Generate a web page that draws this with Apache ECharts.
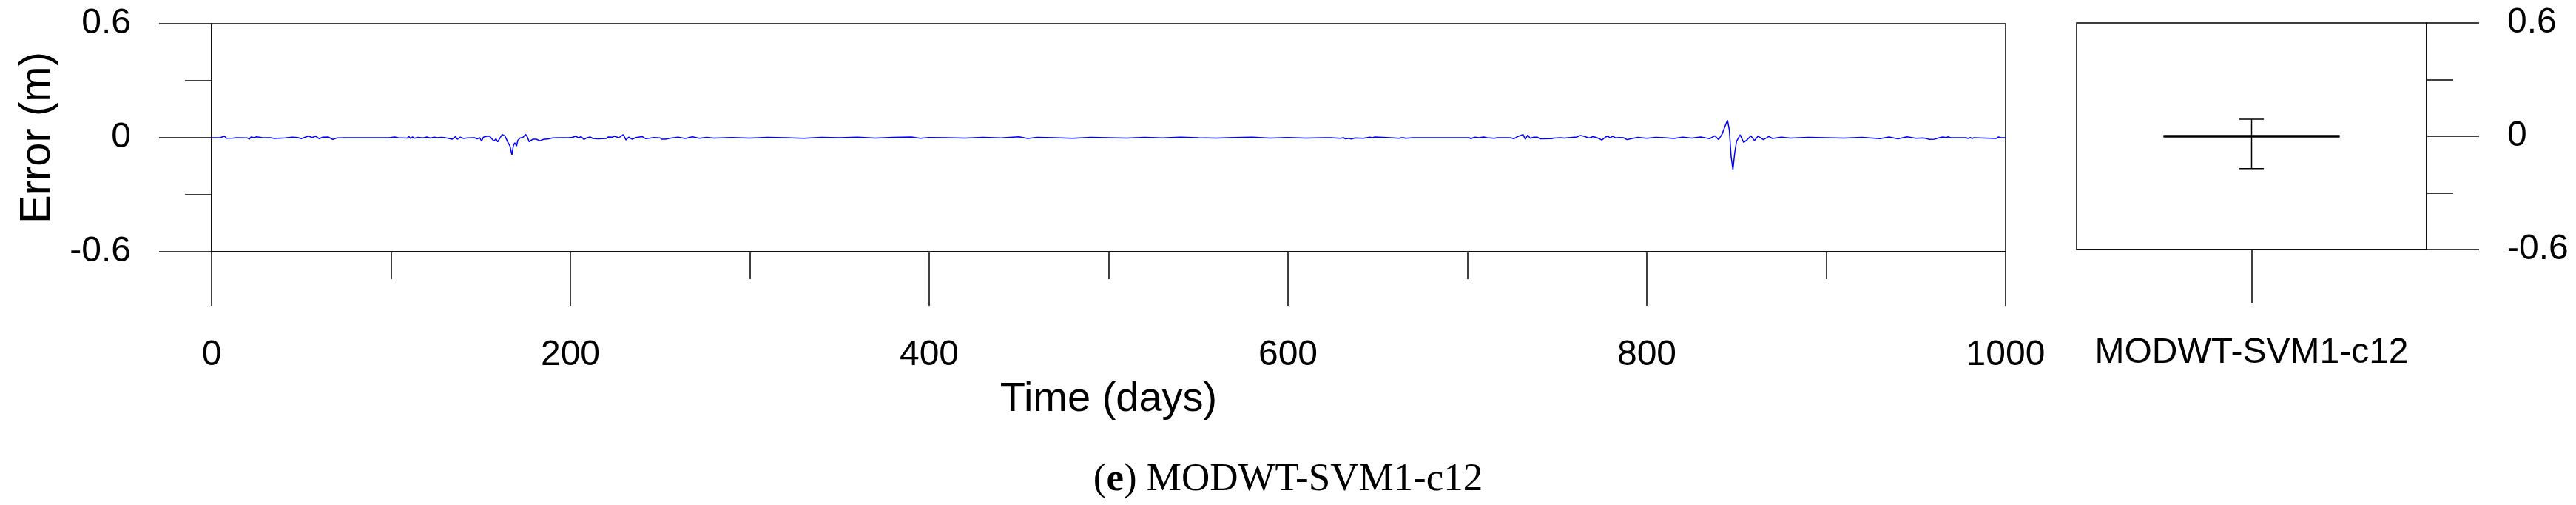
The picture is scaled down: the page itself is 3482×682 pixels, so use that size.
<!DOCTYPE html>
<html>
<head>
<meta charset="utf-8">
<script src="https://cdn.jsdelivr.net/npm/echarts@6/dist/echarts.min.js"></script>
<style>
    html, body { margin: 0; padding: 0; background: #fff; }
    #chart { width: 3482px; height: 682px; }
</style>
</head>
<body>
<div id="chart"></div>
<script>
// error series (day, error in m)
const days = [
    0, 3, 5, 7, 8.5, 12, 14, 20, 21, 22, 24, 25, 28, 33, 35, 41, 45, 48, 50, 54, 56, 58, 60, 62, 65, 67.5, 70, 75,
    99, 102, 104, 109, 110, 111, 112, 113, 115, 118, 120, 122, 124, 126, 128, 129.5, 132, 134, 136, 137, 138.5, 140.5,
    142.5, 146.5, 148, 149.5, 150.5, 151.5, 153.5, 155, 156.5, 157.5, 158.5, 159.5, 160.5, 162, 163.5, 165, 166.3,
    167.4, 168.2, 169, 170, 170.7, 172, 173.5, 175, 176, 177, 179, 181, 183, 185, 188, 190, 194, 199.5, 201, 203,
    204.5, 206, 207.5, 209, 211, 212.5, 215.5, 220, 221, 223.5, 224.5, 227, 229.5, 231, 232.5, 234.5, 236.5, 240, 242,
    244.5, 246.5, 250, 251, 253, 256, 260, 264, 268, 272, 276, 280, 290, 300, 310, 320, 330, 340, 350, 360, 370, 380,
    390, 395, 400, 410, 420, 430, 440, 450, 455, 460, 470, 480, 490, 500, 510, 520, 530, 540, 550, 560, 570, 580, 590,
    600, 610, 620, 624, 629, 631, 632, 634, 635.3, 637.4, 642, 645.6, 647, 648.4, 657.3, 658, 662, 663, 663.5, 664.5,
    665.5, 669.7, 701, 702, 704, 706.5, 709, 711, 715, 716.5, 724, 725.8, 727, 728, 731, 732.3, 733.6, 735, 737, 739,
    740.5, 747, 748, 752, 754, 761, 763, 765, 767, 768, 770, 772, 775, 777, 778.3, 779.5, 781, 782.5, 784.5, 787, 789,
    795, 800, 805, 810, 815, 820, 825, 830, 835, 838, 840, 842, 844, 845, 846, 847, 848, 849, 850, 852, 854, 856, 858,
    860, 862, 865, 868, 870, 875, 880, 890, 900, 910, 920, 930, 935, 940, 945, 950, 954, 955.6, 957.6, 960.4, 961.7,
    963, 965, 967, 968, 969.3, 978, 979, 980.3, 981.4, 982.3, 994.7, 996, 997.5, 1000
];
const errors = [
    0, 0, 0.001, 0.008, -0.003, -0.002, 0, -0.001, -0.008, 0.004, 0, 0.005, 0.001, 0, -0.004, -0.001, 0.003, 0.001,
    -0.005, 0.009, 0.001, 0.008, -0.005, 0.003, 0.004, -0.009, -0.001, 0,
    0, 0.004, 0, -0.002, 0.006, -0.005, 0.005, -0.003, 0.002, -0.001, 0.004, -0.002, 0.003, 0, 0.002, 0.001, -0.003,
    -0.008, 0.006, -0.008, 0.003, -0.004,
    -0.001, 0, -0.006, 0, -0.018, 0.003, 0.008, 0.008, -0.009, -0.017, -0.005, -0.022, -0.005, 0.017, 0.009, -0.021,
    -0.043,
    -0.09, -0.043, -0.027, -0.044, -0.014, -0.001, 0.001, 0.018, 0.004, -0.021, -0.008, -0.008, -0.016, -0.009, -0.006,
    -0.001, 0, 0.001, 0.002, 0.008,
    -0.001, 0.006, -0.009, -0.001, 0.004, -0.004, -0.006, -0.004, 0.004, 0.003, 0.008, 0, 0.016, -0.012, 0.003, -0.008,
    0.001, 0.006, -0.005,
    -0.002, 0.001, -0.001, -0.008, -0.008, -0.002, 0.003, -0.004, 0.005, -0.003, 0.002, -0.002, 0.001, -0.002, 0.002, 0,
    -0.003, 0.002, 0, 0.003, -0.002, 0.002,
    0.004, -0.003, 0.001, 0, -0.002, 0.002, -0.001, 0.005, -0.004, 0.002, 0, -0.003, 0.002, 0, -0.002, 0.002, -0.001,
    0.003, 0, -0.002, 0.001, 0.003, -0.002,
    0.001, -0.002, 0, 0, -0.003, 0, -0.006, -0.003, -0.007, -0.001, -0.003, 0.003, 0, 0.004, 0, -0.003, -0.003, 0,
    -0.003, 0,
    -0.003, 0, 0, -0.005, 0.003, 0, 0.004, 0, -0.003, 0, 0, -0.005, 0, 0.006, 0.017, -0.008, 0.014, -0.003, 0.003, 0.003,
    -0.006, -0.005, -0.002, 0, -0.002, 0.004, 0.012, 0.008, 0.001, -0.001, 0.006, 0.001, -0.012, 0.004, 0.008, -0.001,
    0.008, -0.001, 0.001, 0, -0.01,
    0.002, -0.003, 0.002, 0, -0.004, 0.003, -0.002, 0.004, -0.005, 0.01, -0.01, 0.02, 0.07, 0.092, 0.04, -0.1, -0.168,
    -0.08, -0.02, 0.015, -0.025, -0.01, 0.01,
    -0.015, 0.008, -0.01, 0.006, -0.004, 0.003, -0.002, 0.002, 0, -0.002, 0.002, -0.005, 0.004, -0.006, 0.005, -0.003,
    -0.001, -0.004, -0.009, -0.008, -0.004,
    0, 0.004, 0.001, 0.005, 0, 0, -0.004, 0.001, -0.004, 0, -0.004, 0.004, 0, 0
];

// box panel: min, q1, median, q3, max
const boxCategories = ['MODWT-SVM1-c12'];
const boxStats = [[0, -0.172, -0.002, 0, 0.002, 0.09]];

const xTicks = { min: 0, max: 1000, interval: 200 };
const yTicks = { min: -0.6, max: 0.6, interval: 0.6 };

const fontSans = 'Liberation Sans';
const fontSerif = 'Liberation Serif';
const black = '#000';
const lineW = 1.5;

const chart = echarts.init(document.getElementById('chart'));

const yAxisBase = (position) => ({
    type: 'value',
    position: position,
    min: yTicks.min,
    max: yTicks.max,
    interval: yTicks.interval,
    axisLine: { show: true, onZero: false, lineStyle: { color: black, width: lineW } },
    axisTick: { show: true, length: 71, lineStyle: { color: black, width: lineW } },
    minorTick: { show: true, splitNumber: 2, length: 36, lineStyle: { color: black, width: lineW } },
    splitLine: { show: false },
    axisLabel: {
        margin: 109,
        fontSize: 48,
        fontFamily: fontSans,
        color: black,
        formatter: (v) => (Math.abs(v) < 1e-9 ? '0' : String(Math.round(v * 10) / 10)),
    },
});

const renderBox = (params, api) => {
    const cx = api.coord([api.value(0), 0])[0];
    const band = api.size([1, 0])[0];
    const yMin = api.coord([api.value(0), api.value(1)])[1];
    const yQ1 = api.coord([api.value(0), api.value(2)])[1];
    const yMed = api.coord([api.value(0), api.value(3)])[1];
    const yQ3 = api.coord([api.value(0), api.value(4)])[1];
    const yMax = api.coord([api.value(0), api.value(5)])[1];
    const half = band * 0.25;
    const cap = band * 0.035;
    const thin = { stroke: black, lineWidth: lineW, fill: null };
    return {
        type: 'group',
        children: [
            { type: 'line', shape: { x1: cx, y1: yMax, x2: cx, y2: yMin }, style: thin },
            { type: 'line', shape: { x1: cx - cap, y1: yMax, x2: cx + cap, y2: yMax }, style: thin },
            { type: 'line', shape: { x1: cx - cap, y1: yMin, x2: cx + cap, y2: yMin }, style: thin },
            {
                type: 'rect',
                shape: { x: cx - half, y: yQ3, width: half * 2, height: yQ1 - yQ3 },
                style: { stroke: black, lineWidth: 2, fill: null },
            },
            { type: 'line', shape: { x1: cx - half, y1: yMed, x2: cx + half, y2: yMed }, style: { stroke: black, lineWidth: 3 } },
        ],
    };
};

const option = {
    animation: false,
    backgroundColor: '#fff',
    title: {
        text: '({b|e}) MODWT-SVM1-c12',
        left: 'center',
        top: 617,
        textStyle: {
            fontFamily: fontSerif,
            fontSize: 53,
            fontWeight: 'normal',
            color: black,
            rich: {
                b: { fontFamily: fontSerif, fontSize: 53, fontWeight: 'bold', color: black },
            },
        },
    },
    grid: [
        { left: 286, right: 771, top: 32, bottom: 342, show: true, borderColor: black, borderWidth: lineW },
        { left: 2807, right: 202, top: 31, bottom: 345, show: true, borderColor: black, borderWidth: lineW },
    ],
    xAxis: [
        {
            type: 'value',
            gridIndex: 0,
            min: xTicks.min,
            max: xTicks.max,
            interval: xTicks.interval,
            name: 'Time (days)',
            nameLocation: 'middle',
            nameGap: 172,
            nameTextStyle: { fontSize: 56, fontFamily: fontSans, color: black },
            axisLine: { show: true, onZero: false, lineStyle: { color: black, width: lineW } },
            axisTick: { show: true, length: 73, lineStyle: { color: black, width: lineW } },
            minorTick: { show: true, splitNumber: 2, length: 37, lineStyle: { color: black, width: lineW } },
            splitLine: { show: false },
            axisLabel: {
                margin: 116,
                fontSize: 48,
                fontFamily: fontSans,
                color: black,
                formatter: (v) => String(v),
            },
        },
        {
            type: 'category',
            gridIndex: 1,
            data: boxCategories,
            axisLine: { show: true, onZero: false, lineStyle: { color: black, width: lineW } },
            axisTick: { show: true, alignWithLabel: true, length: 72, lineStyle: { color: black, width: lineW } },
            splitLine: { show: false },
            axisLabel: { margin: 116, fontSize: 48, fontFamily: fontSans, color: black },
        },
    ],
    yAxis: [
        Object.assign(yAxisBase('left'), {
            gridIndex: 0,
            name: 'Error (m)',
            nameLocation: 'middle',
            nameGap: 206,
            nameTextStyle: { fontSize: 58, fontFamily: fontSans, color: black },
        }),
        Object.assign(yAxisBase('right'), { gridIndex: 1 }),
    ],
    series: [
        {
            name: 'error',
            type: 'line',
            xAxisIndex: 0,
            yAxisIndex: 0,
            data: days.map((d, i) => [d, errors[i]]),
            showSymbol: false,
            symbol: 'none',
            lineStyle: { color: '#0000ff', width: 1.5 },
        },
        {
            name: 'box',
            type: 'custom',
            xAxisIndex: 1,
            yAxisIndex: 1,
            renderItem: renderBox,
            encode: { x: 0, y: [1, 2, 3, 4, 5] },
            data: boxStats,
        },
    ],
};

chart.setOption(option);
</script>
</body>
</html>
